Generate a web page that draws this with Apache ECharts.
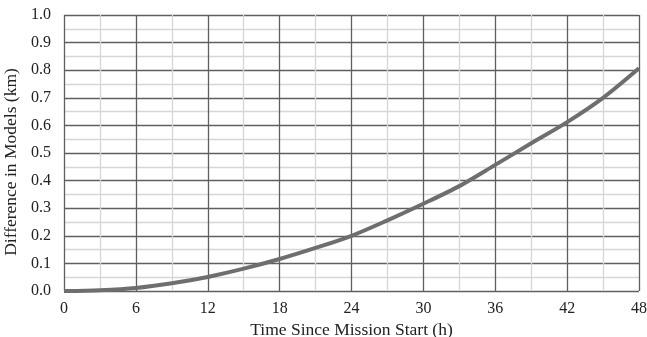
<!DOCTYPE html>
<html>
<head>
<meta charset="utf-8">
<script src="https://cdn.jsdelivr.net/npm/echarts@6/dist/echarts.min.js"></script>
<style>
  html, body { margin: 0; padding: 0; background: #ffffff; }
  #chart { width: 647px; height: 337px; }
</style>
</head>
<body>
<div id="chart"></div>
<script>
// Elapsed time (h) and difference between the two models (km)
const hours = [0, 3, 6, 9, 12, 15, 18, 21, 24, 27, 30, 33, 36, 39, 42, 45, 48];
const diffKm = [0.000, 0.003, 0.011, 0.028, 0.051, 0.081, 0.116, 0.156, 0.200,
                0.256, 0.316, 0.380, 0.457, 0.535, 0.612, 0.700, 0.807];

const xTitle = 'Time Since Mission Start (h)';
const yTitle = 'Difference in Models (km)';

const FONT = '"Liberation Serif", "Times New Roman", serif';
const MAJOR = '#5f5f5f';
const MINOR = '#d6d6d6';

const chart = echarts.init(document.getElementById('chart'));
chart.setOption({
  animation: false,
  backgroundColor: '#ffffff',
  grid: { left: 64, right: 8, top: 15, bottom: 46, outerBoundsMode: 'none', containLabel: false },
  xAxis: {
    type: 'value',
    min: 0, max: 48, interval: 6,
    name: xTitle,
    nameLocation: 'middle',
    nameGap: 28,
    nameTextStyle: { fontFamily: FONT, fontSize: 17.5, color: '#222' },
    axisLine: { show: false },
    axisTick: { show: false },
    axisLabel: { fontFamily: FONT, fontSize: 16, color: '#222', margin: 10 },
    splitLine: { show: true, lineStyle: { color: MAJOR, width: 1.3 } },
    minorTick: { show: false, splitNumber: 2 },
    minorSplitLine: { show: true, lineStyle: { color: MINOR, width: 1.3 } }
  },
  yAxis: {
    type: 'value',
    min: 0, max: 1, interval: 0.1,
    name: yTitle,
    nameLocation: 'middle',
    nameGap: 38,
    nameTextStyle: { fontFamily: FONT, fontSize: 17.5, color: '#222', padding: [0, 18, 0, 0] },
    axisLine: { show: false },
    axisTick: { show: false },
    axisLabel: {
      fontFamily: FONT, fontSize: 16, color: '#222', margin: 13,
      formatter: v => v.toFixed(1)
    },
    splitLine: { show: true, lineStyle: { color: MAJOR, width: 1.3 } },
    minorTick: { show: false, splitNumber: 2 },
    minorSplitLine: { show: true, lineStyle: { color: MINOR, width: 1.3 } }
  },
  series: [{
    type: 'line',
    data: hours.map((h, i) => [h, diffKm[i]]),
    smooth: 0.3,
    showSymbol: false,
    lineStyle: { color: '#6e6e6e', width: 4 },
    clip: false
  }]
});
</script>
</body>
</html>
